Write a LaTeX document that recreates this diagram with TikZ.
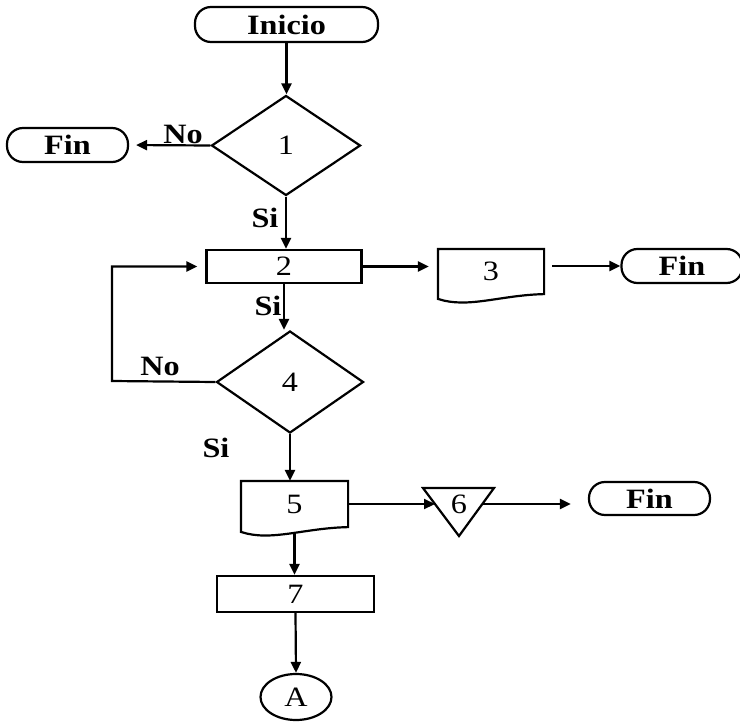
\documentclass[tikz,border=0pt]{standalone}
\usepackage{fontspec}
\setmainfont{Liberation Serif}[FakeStretch=1.15]
\usetikzlibrary{shapes.geometric,arrows.meta,calc}
\begin{document}
\begin{tikzpicture}[x=1pt,y=-1pt,
  line width=2.2pt,
  lbl/.style={font=\fontsize{28}{30}\selectfont\bfseries, inner sep=0, anchor=base},
  num/.style={font=\fontsize{28}{30}\selectfont, inner sep=0},
  term/.style={draw, rounded corners=16pt, minimum width=121pt, minimum height=34pt, inner sep=0, font=\fontsize{28}{30}\selectfont\bfseries},
  proc/.style={draw, inner sep=0, font=\fontsize{28}{30}\selectfont},
  dec/.style={draw, diamond, inner sep=0, font=\fontsize{28}{30}\selectfont},
  arr/.style={-{Triangle[length=11pt,width=10pt]}},
]
\useasboundingbox (0,0) rectangle (740,723);
% nodes
\node[term, minimum width=183pt, minimum height=35pt] (inicio) at (286.5,24.5) {Inicio};
\node[dec, minimum width=149pt, minimum height=100pt] (d1) at (286,145.5) {1};
\node[term] (fin1) at (67.5,145) {Fin};
\node[proc, minimum width=155pt, minimum height=33pt] (p2) at (284,266.5) {2};
\node[num, minimum width=104pt, minimum height=43pt] (doc3) at (491,271.5) {3};
\draw (doc3.north west) -- (doc3.north east) -- (doc3.south east)
  .. controls +(-44,1) and +(30,10) .. ($(doc3.north west)+(0,50)$) -- cycle;
\node[term] (fin2) at (682,266) {Fin};
\node[dec, minimum width=147pt, minimum height=102pt] (d4) at (290,382) {4};
\node[num, minimum width=105pt, minimum height=44pt] (doc5) at (294.5,504) {5};
\draw (doc5.north west) -- (doc5.north east) -- (doc5.south east)
  .. controls +(-45,1) and +(30,10) .. ($(doc5.north west)+(0,51)$) -- cycle;
\node[num] (t6) at (459,504) {6};
\draw ($(t6)+(-36,-16)$) -- ($(t6)+(35,-16)$) -- ($(t6)+(0,32)$) -- cycle;
\coordinate (t6in) at ($(t6)+(-24,0)$);
\coordinate (t6out) at ($(t6)+(23,0)$);
\node[term, minimum height=33pt] (fin3) at (649.5,498.5) {Fin};
\node[proc, minimum width=157pt, minimum height=36pt] (p7) at (295.5,594) {7};
\node[draw, ellipse, minimum width=71pt, minimum height=46pt, inner sep=0, font=\fontsize{28}{30}\selectfont] (A) at (296,697) {A};
% labels
\node[lbl] (no1) at (183,143) {No};
\node[lbl] (si1) at (265,227) {Si};
\node[lbl] (si2) at (268,315) {Si};
\node[lbl] (no4) at (160,375) {No};
\node[lbl] (si3) at (216,457) {Si};
% connectors
\draw[arr] (inicio.south) -- (inicio.south |- d1.north);
\draw[arr, shorten >=7pt] (d1.west) -- (fin1.east);
\draw[arr] (d1.south) -- (d1.south |- p2.north);
\draw[arr, shorten >=9pt] (p2.east) -- (p2.east -| doc3.west);
\draw[arr, shorten <=8pt] (doc3.east |- fin2.west) -- (fin2.west);
\coordinate (lc) at (112,381);
\draw[arr, shorten >=8pt] (d4.west) -- (lc) |- (p2.west);
\draw[arr] (p2.south) -- (p2.south |- d4.north);
\draw[arr] (d4.south) -- (d4.south |- doc5.north);
\draw[arr] (doc5.east) -- (t6in);
\draw[arr, shorten >=17pt] (t6out) -- (t6out -| fin3.west);
\draw[arr] ([yshift=-7pt]doc5.south) -- (doc5.south |- p7.north);
\draw[arr] (p7.south) -- (A.north);
\end{tikzpicture}
\end{document}
